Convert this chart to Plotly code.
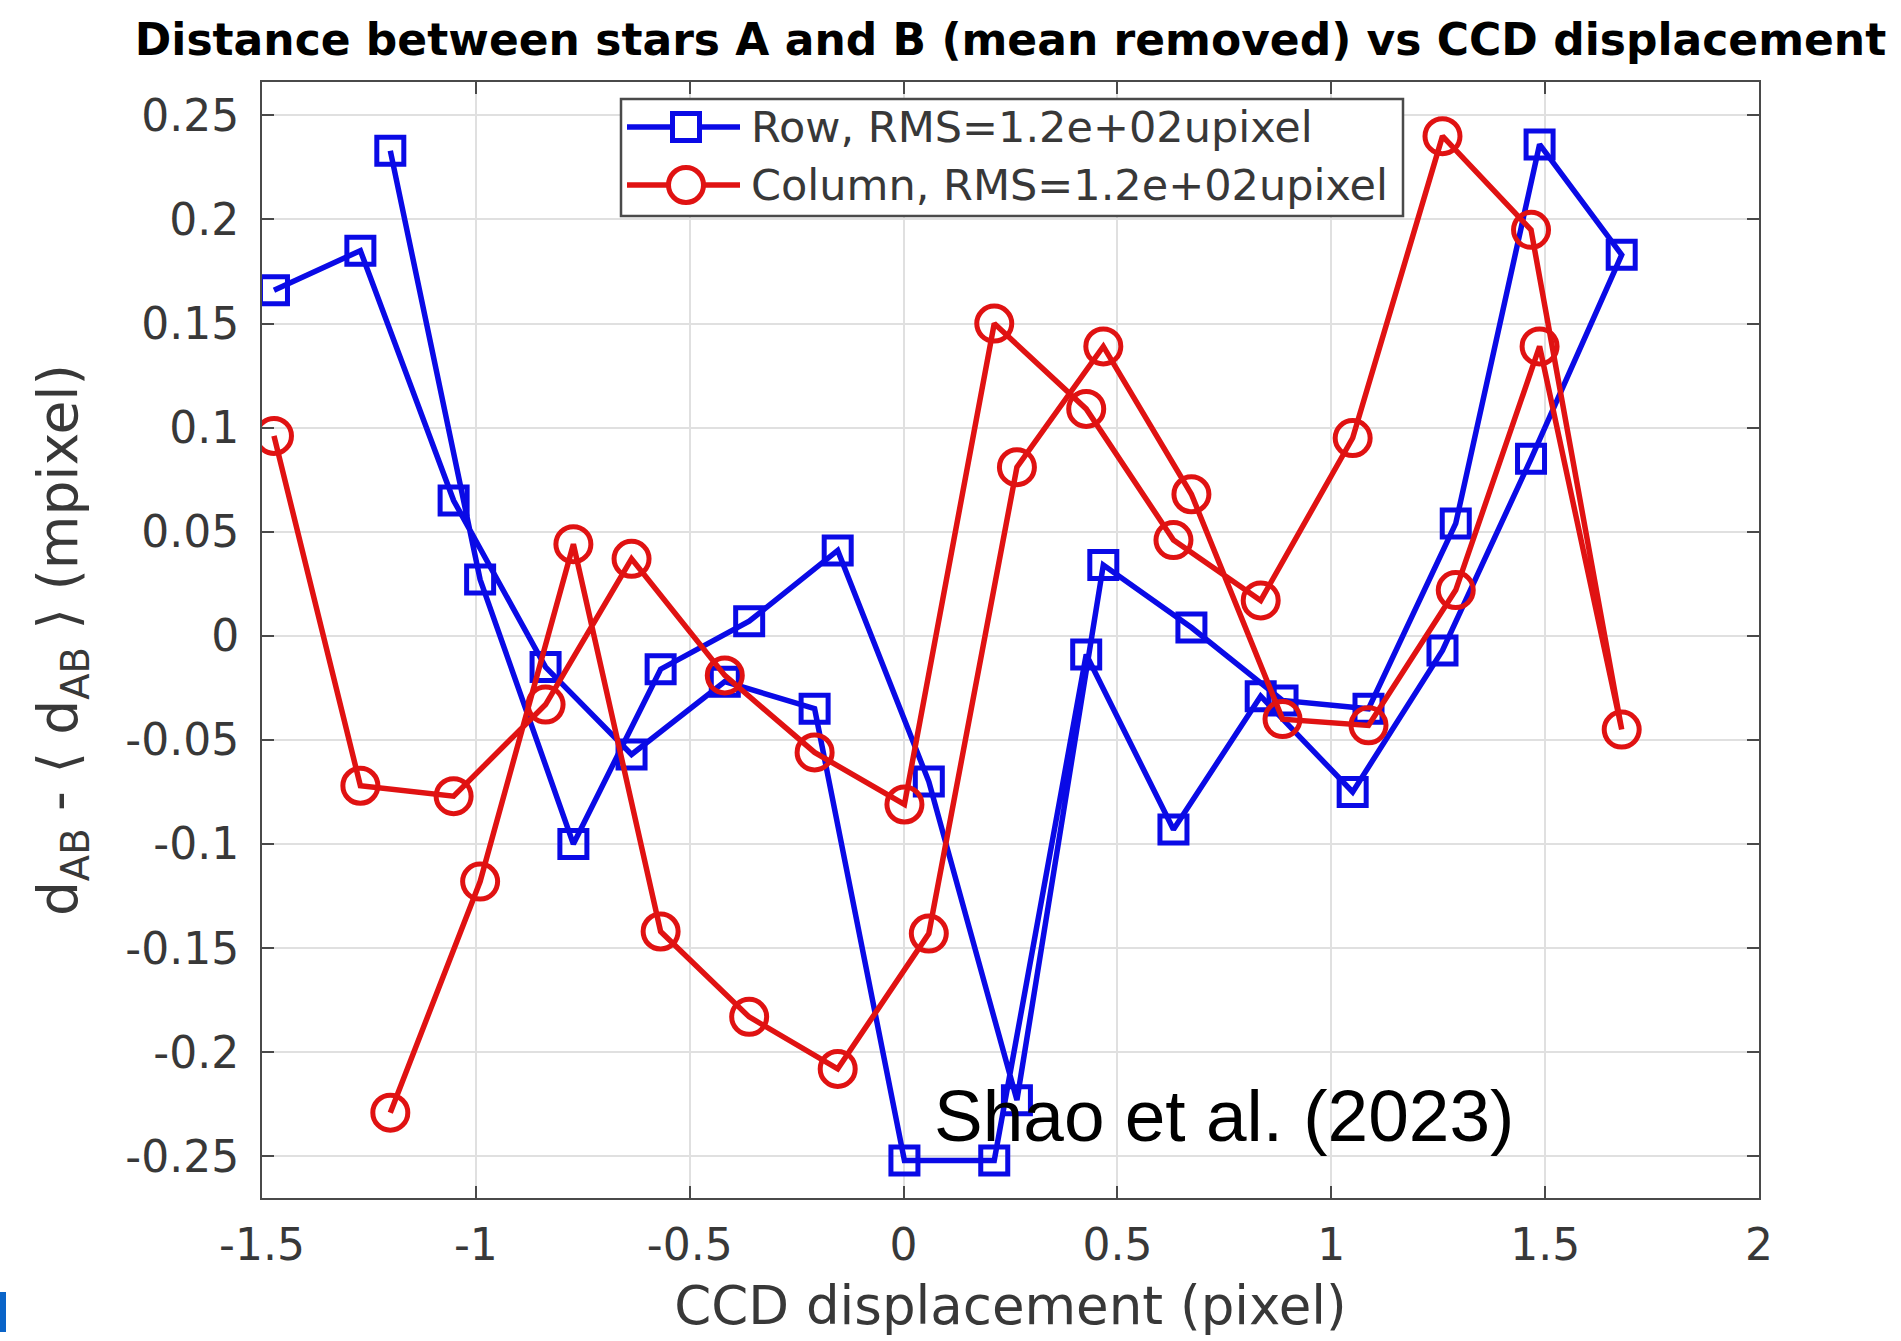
import plotly.graph_objects as go

# ---------------- data ----------------
# CCD displacement sequence (pixel), shared by both series, in acquisition order
ccd_displacement = [-1.200, -0.990, -0.772, -0.568, -0.361, -0.154, 0.059, 0.265,
                    0.467, 0.673, 0.886, 1.087, 1.291, 1.487, 1.679,
                    1.467, 1.260, 1.050, 0.835, 0.631, 0.427, 0.212, 0.002,
                    -0.208, -0.418, -0.636, -0.837, -1.052, -1.270, -1.472]

row_values = [0.233, 0.027, -0.100, -0.016, 0.007, 0.041, -0.070, -0.223,
              0.034, 0.004, -0.031, -0.035, 0.054, 0.236, 0.183,
              0.085, -0.007, -0.075, -0.029, -0.093, -0.009, -0.252, -0.252,
              -0.035, -0.022, -0.057, -0.015, 0.065, 0.185, 0.166]

column_values = [-0.229, -0.118, 0.044, -0.142, -0.183, -0.208, -0.143, 0.081,
                 0.139, 0.068, -0.040, -0.043, 0.022, 0.139, -0.045,
                 0.195, 0.240, 0.095, 0.017, 0.046, 0.109, 0.150, -0.081,
                 -0.056, -0.019, 0.037, -0.033, -0.077, -0.072, 0.096]

series_names = ["Row, RMS=1.2e+02upixel", "Column, RMS=1.2e+02upixel"]

x_tick_vals = [-1.5, -1, -0.5, 0, 0.5, 1, 1.5, 2]
x_tick_text = ["-1.5", "-1", "-0.5", "0", "0.5", "1", "1.5", "2"]
y_tick_vals = [0.25, 0.2, 0.15, 0.1, 0.05, 0, -0.05, -0.1, -0.15, -0.2, -0.25]
y_tick_text = ["0.25", "0.2", "0.15", "0.1", "0.05", "0", "-0.05", "-0.1", "-0.15", "-0.2", "-0.25"]

title_text = "Distance between stars A and B (mean removed) vs CCD displacement"
x_label = "CCD displacement (pixel)"
y_label = "d<sub>AB</sub> - \u27e8 d<sub>AB</sub> \u27e9 (mpixel)"
credit_text = "Shao et al. (2023)"

# ---------------- styling ----------------
BLUE = "#0a0ae6"
RED = "#e01212"
AXIS = "#4a4a4a"
GRID = "#e0e0e0"
TXT = "#383838"
FONT = "DejaVu Sans"
LW = 5.5

W, H = 1901, 1341
L, R, T, B = 262, 142, 82, 143
PW, PH = W - L - R, H - T - B


def px_x(px):
    return (px - L) / PW


def px_y(py):
    return (H - B - py) / PH


fig = go.Figure()
fig.add_trace(go.Scatter(
    x=ccd_displacement, y=row_values, mode="lines+markers", name=series_names[0],
    line=dict(color=BLUE, width=LW),
    marker=dict(symbol="square-open", size=27, color=BLUE, line=dict(width=5, color=BLUE)),
    showlegend=False))
fig.add_trace(go.Scatter(
    x=ccd_displacement, y=column_values, mode="lines+markers", name=series_names[1],
    line=dict(color=RED, width=LW),
    marker=dict(symbol="circle-open", size=35, color=RED, line=dict(width=5, color=RED)),
    showlegend=False))

axis_common = dict(
    showgrid=True, gridcolor=GRID, gridwidth=2,
    zeroline=False, showline=True, linecolor=AXIS, linewidth=2, mirror="ticks",
    ticks="inside", ticklen=12, tickwidth=2, tickcolor=AXIS,
    tickfont=dict(family=FONT, size=44, color=TXT),
)

fig.update_xaxes(range=[-1.5, 2], tickvals=x_tick_vals, ticktext=x_tick_text,
                 ticklabelstandoff=7,
                 title=dict(text=x_label, font=dict(family=FONT, size=53, color=TXT), standoff=18),
                 **axis_common)
fig.update_yaxes(range=[-0.27, 0.266], tickvals=y_tick_vals, ticktext=y_tick_text,
                 ticklabelstandoff=12,
                 title=dict(text=y_label, font=dict(family=FONT, size=55, color=TXT), standoff=30),
                 **axis_common)

# legend drawn as a boxed key
shapes = []
annotations = []
leg_x0, leg_x1, leg_y0, leg_y1 = 621, 1403, 99, 216
shapes.append(dict(type="rect", xref="paper", yref="paper",
                   x0=px_x(leg_x0), x1=px_x(leg_x1), y0=px_y(leg_y1), y1=px_y(leg_y0),
                   line=dict(color=AXIS, width=2.5), fillcolor="white", layer="above"))
entries = [(127, BLUE, "rect", 27), (185, RED, "circle", 35)]
for (cy, col, shp, sz), name in zip(entries, series_names):
    shapes.append(dict(type="line", xref="paper", yref="paper",
                       x0=px_x(627), x1=px_x(740), y0=px_y(cy), y1=px_y(cy),
                       line=dict(color=col, width=LW), layer="above"))
    shapes.append(dict(type=shp, xref="paper", yref="paper",
                       xsizemode="pixel", ysizemode="pixel",
                       xanchor=px_x(686), yanchor=px_y(cy),
                       x0=-sz / 2, x1=sz / 2, y0=-sz / 2, y1=sz / 2,
                       line=dict(color=col, width=5), fillcolor="white", layer="above"))
    annotations.append(dict(text=name, xref="paper", yref="paper", x=px_x(749), y=px_y(cy),
                            xanchor="left", yanchor="middle", showarrow=False,
                            font=dict(family=FONT, size=43, color=TXT)))

annotations.append(dict(text=credit_text, xref="paper", yref="paper",
                        x=px_x(932), y=px_y(1115), xanchor="left", yanchor="middle",
                        showarrow=False, font=dict(family="Liberation Sans", size=73, color="black")))

# small blue fragment at the lower-left edge of the picture
shapes.append(dict(type="rect", xref="paper", yref="paper",
                   x0=px_x(0), x1=px_x(6), y0=px_y(1332), y1=px_y(1292),
                   line=dict(width=0), fillcolor="#0a64c8"))

fig.update_layout(
    width=W, height=H, autosize=False,
    margin=dict(l=L, r=R, t=T, b=B, pad=0),
    paper_bgcolor="white", plot_bgcolor="white",
    title=dict(text="<b>" + title_text + "</b>", x=0.5, xref="paper",
               y=1 - 40 / H, yref="container", xanchor="center", yanchor="middle",
               font=dict(family=FONT, size=44, color="black")),
    shapes=shapes, annotations=annotations, showlegend=False,
)

fig.write_html("out.html", config={"displayModeBar": False},
               post_script="document.body.style.margin='0';")
